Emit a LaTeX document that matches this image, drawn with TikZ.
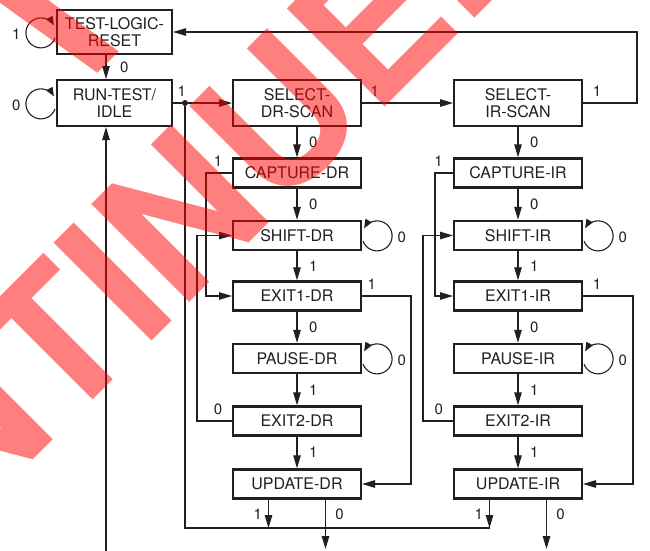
\documentclass[tikz,border=0pt]{standalone}
\usepackage{fontspec}
\setmainfont{TeX Gyre Heros}
\usepackage{tikz}
\usetikzlibrary{positioning,arrows.meta}
\definecolor{ink}{HTML}{231F20}
\definecolor{stamp}{HTML}{FF0000}
\tikzset{
  tapbox/.style={draw=ink, line width=2.4pt, fill=white, minimum width=127.6pt, minimum height=29pt, inner sep=0pt, align=center, font=\fontsize{16}{17}\selectfont, text=ink},
  tall/.style={minimum height=45.6pt},
  conn/.style={ink, line width=1.1pt, -{Triangle[length=13pt, width=7.5pt]}},
  wire/.style={ink, line width=1.1pt},
  loopy/.style={ink, line width=1.1pt, -{Triangle[length=9pt, width=7pt]}},
  lbl/.style={font=\fontsize{15}{15}\selectfont, text=ink, inner sep=1pt},
}

\begin{document}
\begin{tikzpicture}[x=1pt, y=-1pt]
\useasboundingbox (0,0) rectangle (650,550);
% reset / idle
\node[tapbox, tall, minimum width=114.6pt, minimum height=43.6pt] (tlr) at (114.5,32) {TEST-LOGIC-\\RESET};
\node[tapbox, tall, minimum width=114.6pt] (rti) at (114.5,103) {RUN-TEST/\\IDLE};
% data register column
\node[tapbox, tall] (sds) at (297,103) {SELECT-\\DR-SCAN};
\node[tapbox] (cdr) at (297,173) {CAPTURE-DR};
\node[tapbox] (shdr) at (297,235.5) {SHIFT-DR};
\node[tapbox] (e1dr) at (297,296) {EXIT1-DR};
\node[tapbox] (pdr) at (297,358.5) {PAUSE-DR};
\node[tapbox] (e2dr) at (297,421) {EXIT2-DR};
\node[tapbox] (udr) at (297,484) {UPDATE-DR};
% instruction register column
\node[tapbox, tall] (sis) at (518,103) {SELECT-\\IR-SCAN};
\node[tapbox] (cir) at (518,173) {CAPTURE-IR};
\node[tapbox] (shir) at (518,235.5) {SHIFT-IR};
\node[tapbox] (e1ir) at (518,296) {EXIT1-IR};
\node[tapbox] (pir) at (518,358.5) {PAUSE-IR};
\node[tapbox] (e2ir) at (518,421) {EXIT2-IR};
\node[tapbox] (uir) at (518,484) {UPDATE-IR};

\node[circle, fill=ink, inner sep=0pt, minimum size=6pt] (fork) at (185,103) {};
\coordinate (idlein) at (106,552);
\coordinate (busL) at (185,528);
\coordinate (busR) at (489.5,528);
\coordinate (outDR) at (325.5,549);
\coordinate (outIR) at (546.5,549);

% self loops
\draw[loopy] (tlr.west) ++(-1,6) arc[start angle=20, end angle=330, radius=15] node[lbl, pos=0.5, left=4pt] {1};
\draw[loopy] (rti.west) ++(-1,6) arc[start angle=20, end angle=330, radius=15] node[lbl, pos=0.5, left=4pt] {0};
\draw[loopy] (shdr.east) ++(1,5.5) arc[start angle=160, end angle=-150, radius=15] node[lbl, pos=0.5, right=4pt] {0};
\draw[loopy] (pdr.east) ++(1,5.5) arc[start angle=160, end angle=-150, radius=15] node[lbl, pos=0.5, right=4pt] {0};
\draw[loopy] (shir.east) ++(1,5.5) arc[start angle=160, end angle=-150, radius=15] node[lbl, pos=0.5, right=4pt] {0};
\draw[loopy] (pir.east) ++(1,5.5) arc[start angle=160, end angle=-150, radius=15] node[lbl, pos=0.5, right=4pt] {0};

% top part
\draw[conn] ([xshift=-8.5pt]tlr.south) -- ([xshift=-8.5pt]rti.north) node[lbl, midway, right=12.5pt] {0};
\draw[conn] (idlein) -- ([xshift=-8.5pt]rti.south);
\draw[wire] (rti.east) -- (fork) node[lbl, at end, above=5pt] {1};
\draw[conn] (fork) -- (sds);
\draw[conn] (sds) -- (sis) node[lbl, pos=0.14, above=4.5pt] {1};
\draw[conn] (sis.east) -- ++(54,0) node[lbl, pos=0.26, above=4.5pt] {1} |- (tlr.east);

% DR column
\draw[conn] (sds) -- (cdr) node[lbl, midway, right=10.5pt] {0};
\draw[conn] (cdr) -- (shdr) node[lbl, midway, right=10.5pt] {0};
\draw[conn] (shdr) -- (e1dr) node[lbl, midway, right=10.5pt] {1};
\draw[conn] (e1dr) -- (pdr) node[lbl, midway, right=10.5pt] {0};
\draw[conn] (pdr) -- (e2dr) node[lbl, midway, right=10.5pt] {1};
\draw[conn] (e2dr) -- (udr) node[lbl, midway, right=10.5pt] {1};
\draw[conn] (cdr.west) -- ++(-26,0) node[lbl, pos=0.54, above=4.5pt] {1} |- (e1dr.west);
\draw[conn] (e2dr.west) -- ++(-35,0) node[lbl, pos=0.4, above=4.5pt] {0} |- (shdr.west);
\draw[conn] (e1dr.east) -- ++(49,0) node[lbl, pos=0.2, above=4.5pt] {1} |- (udr.east);

% IR column
\draw[conn] (sis) -- (cir) node[lbl, midway, right=10.5pt] {0};
\draw[conn] (cir) -- (shir) node[lbl, midway, right=10.5pt] {0};
\draw[conn] (shir) -- (e1ir) node[lbl, midway, right=10.5pt] {1};
\draw[conn] (e1ir) -- (pir) node[lbl, midway, right=10.5pt] {0};
\draw[conn] (pir) -- (e2ir) node[lbl, midway, right=10.5pt] {1};
\draw[conn] (e2ir) -- (uir) node[lbl, midway, right=10.5pt] {1};
\draw[conn] (cir.west) -- ++(-18,0) node[lbl, pos=0.8, above=4.5pt] {1} |- (e1ir.west);
\draw[conn] (e2ir.west) -- ++(-30,0) node[lbl, pos=0.47, above=4.5pt] {0} |- (shir.west);
\draw[conn] (e1ir.east) -- ++(50,0) node[lbl, pos=0.28, above=4.5pt] {1} |- (uir.east);

% update exits
\draw[wire] (fork) -- (busL) -- (busR);
\draw[conn] ([xshift=-28.5pt]udr.south) -- ([xshift=-28.5pt]udr.south |- busL) node[lbl, midway, left=5pt] {1};
\draw[conn] ([xshift=-28.5pt]uir.south) -- (busR) node[lbl, midway, left=5pt] {1};
\draw[conn] ([xshift=28.5pt]udr.south) -- (outDR) node[lbl, pos=0.29, right=8.3pt] {0};
\draw[conn] ([xshift=28.5pt]uir.south) -- (outIR) node[lbl, pos=0.29, right=8.3pt] {0};

% watermark
\begin{scope}
\clip (0,0) rectangle (650,550);
\node[font=\fontsize{190}{190}\selectfont\bfseries, text=stamp, text opacity=0.5, rotate=45, anchor=base west, inner sep=0pt] (stampmark) at (-461,953.5) {DISCONTINUED};
\fill[stamp, opacity=0.5] (44,-3) -- (118.7,51.3) -- (97.3,72.7) -- (-8,-3) -- cycle;
\end{scope}
\end{tikzpicture}
\end{document}
